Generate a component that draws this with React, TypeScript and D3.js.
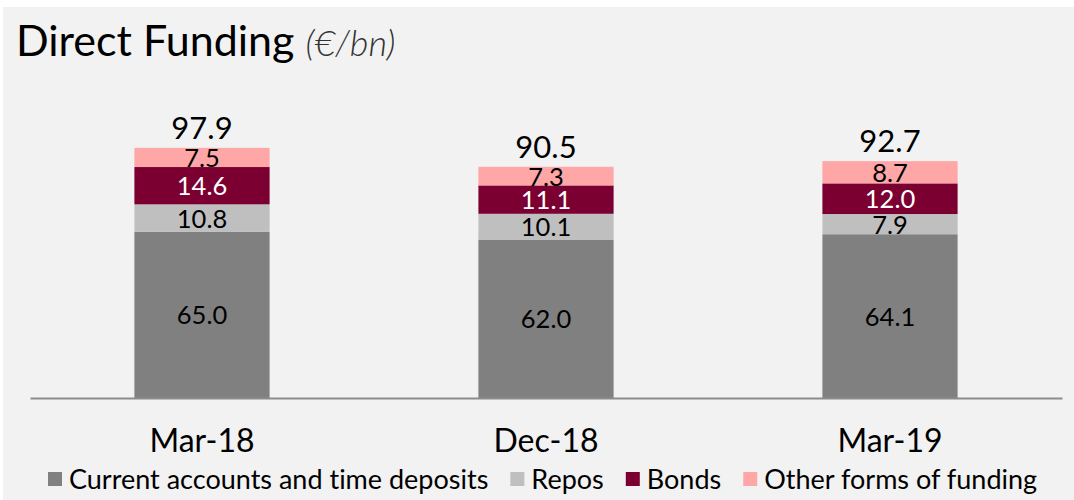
import { useEffect, useRef } from 'react'
import * as d3 from 'd3'

const categories = ['Mar-18', 'Dec-18', 'Mar-19']
const seriesNames = ['Current accounts and time deposits', 'Repos', 'Bonds', 'Other forms of funding']
const currentAccounts = [65.0, 62.0, 64.1]
const repos = [10.8, 10.1, 7.9]
const bonds = [14.6, 11.1, 12.0]
const otherFunding = [7.5, 7.3, 8.7]
const totals = [97.9, 90.5, 92.7]

const colors = ['#808080', '#bfbfbf', '#7b0031', '#ffa6a6']
const labelColors = ['#000', '#000', '#fff', '#000']
const FONT = 'Lato, Carlito, "Open Sans", sans-serif'

export default function App() {
  const svgRef = useRef<SVGSVGElement>(null)

  useEffect(() => {
    if (!svgRef.current) return
    const W = 1074
    const H = 500
    const svg = d3.select(svgRef.current)
    svg.selectAll('*').remove()
    svg.style('font-variant-ligatures', 'none')

    // Background panel
    svg.append('rect')
      .attr('x', 3).attr('y', 7)
      .attr('width', W - 3).attr('height', H - 7)
      .attr('fill', '#f2f2f2')

    // Title
    const title = svg.append('text')
      .attr('x', 16).attr('y', 56)
      .attr('font-family', FONT)
      .attr('fill', '#000')
    title.append('tspan').attr('font-size', '43px').text('Direct Funding ')
    title.append('tspan')
      .attr('font-size', '36px')
      .attr('font-style', 'italic')
      .attr('font-weight', 300)
      .attr('fill', '#333')
      .text('(€/bn)')

    const series = [currentAccounts, repos, bonds, otherFunding]
    const rows = categories.map((c, i) => {
      const r: any = { cat: c }
      seriesNames.forEach((s, k) => { r[s] = series[k][i] })
      return r
    })
    const stacked = d3.stack().keys(seriesNames)(rows)

    const xScale = d3.scaleBand().domain(categories).range([30, 1062]).paddingInner(0.607).paddingOuter(0.3035)
    const yScale = d3.scaleLinear().domain([0, 100]).range([398, 142.5])

    // Stacked bars
    stacked.forEach((layer, k) => {
      layer.forEach((d, i) => {
        const x = xScale(categories[i]) as number
        const y0 = yScale(d[0])
        const y1 = yScale(d[1])
        svg.append('rect')
          .attr('x', x).attr('y', y1)
          .attr('width', xScale.bandwidth())
          .attr('height', y0 - y1)
          .attr('fill', colors[k])
        svg.append('text')
          .attr('x', x + xScale.bandwidth() / 2)
          .attr('y', (y0 + y1) / 2 + 9.5)
          .attr('text-anchor', 'middle')
          .attr('font-family', FONT)
          .attr('font-size', '25.5px')
          .attr('fill', labelColors[k])
          .text(series[k][i].toFixed(1))
      })
    })

    // Totals
    categories.forEach((c, i) => {
      svg.append('text')
        .attr('x', (xScale(c) as number) + xScale.bandwidth() / 2)
        .attr('y', yScale(totals[i]) - 9)
        .attr('text-anchor', 'middle')
        .attr('font-family', FONT)
        .attr('font-size', '31px')
        .attr('fill', '#000')
        .text(totals[i].toFixed(1))
    })

    // Axis
    const axis = svg.append('g')
      .attr('transform', `translate(0,${yScale(0)})`)
      .call(d3.axisBottom(xScale).tickSize(0).tickPadding(0))
    axis.select('.domain')
      .attr('stroke', '#8c8c8c')
      .attr('stroke-width', 2)
    axis.selectAll('text')
      .attr('dy', null)
      .attr('y', 54)
      .attr('font-family', FONT)
      .attr('font-size', '32px')
      .attr('fill', '#000')

    // Legend
    let lx = 48
    seriesNames.forEach((s, k) => {
      svg.append('rect')
        .attr('x', lx).attr('y', 472)
        .attr('width', 14).attr('height', 14)
        .attr('fill', colors[k])
      const t = svg.append('text')
        .attr('x', lx + 21).attr('y', 489)
        .attr('font-family', FONT)
        .attr('font-size', '27px')
        .attr('fill', '#000')
        .text(s)
      const len = (t.node() as SVGTextElement).getComputedTextLength()
      lx += 21 + len + 22
    })
  }, [])

  return (
    <svg
      ref={svgRef}
      width={1074}
      height={500}
      style={{ position: 'absolute', left: 0, top: 0, display: 'block', background: '#fff' }}
    />
  )
}
